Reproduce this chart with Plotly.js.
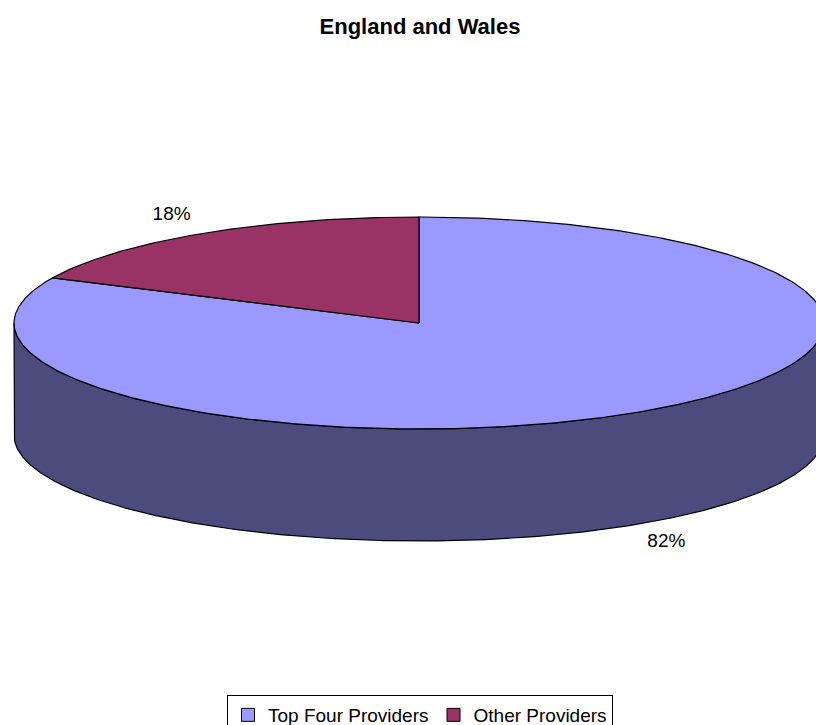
<!DOCTYPE html>
<html><head><meta charset="utf-8">
<script src="https://cdn.plot.ly/plotly-3.0.1.min.js"></script>
<style>html,body{margin:0;padding:0;background:#fff;}#chart{width:816px;height:725px;}</style>
</head><body><div id="chart"></div>
<script>
// ---- data ----
const chartTitle = 'England and Wales';
const categories = ['Top Four Providers', 'Other Providers'];
const values = [82, 18];
const labels = ['82%', '18%'];

// ---- styles ----
const topColors = ['#9999FF', '#993366'];
const sideColors = ['#4B4B7D', '#4C1933'];
const FONT = 'Arial, "Liberation Sans", sans-serif';

// ---- geometry of the tilted pie (in pixel-like axis units) ----
const W = 816, H = 725;
const cx = 419, cy = 323, rx = 405, ry = 106, depth = 112;

const total = values.reduce((a, b) => a + b, 0);
function pt(theta, dz) { // theta: degrees clockwise from 12 o'clock
  const r = theta * Math.PI / 180;
  return [cx + rx * Math.sin(r), cy - ry * Math.cos(r) + (dz || 0)];
}
function arc(a, b, dz) {
  const n = Math.max(2, Math.ceil(Math.abs(b - a) / 0.5));
  const xs = [], ys = [];
  for (let i = 0; i <= n; i++) {
    const p = pt(a + (b - a) * i / n, dz);
    xs.push(p[0]); ys.push(p[1]);
  }
  return [xs, ys];
}

// slice angles
const slices = [];
let acc = 0;
values.forEach((v, i) => {
  const a = acc / total * 360;
  acc += v;
  const b = acc / total * 360;
  slices.push({a, b, i});
});

const traces = [];

// side walls (front half only: 90..270 degrees)
slices.forEach(s => {
  const a = Math.max(s.a, 90), b = Math.min(s.b, 270);
  if (b <= a) return;
  const top = arc(a, b, 0);
  const bot = arc(b, a, depth);
  traces.push({
    type: 'scatter', mode: 'lines', fill: 'toself',
    x: top[0].concat(bot[0]).concat([top[0][0]]),
    y: top[1].concat(bot[1]).concat([top[1][0]]),
    fillcolor: sideColors[s.i], line: {color: '#000', width: 1.2},
    hoverinfo: 'skip', showlegend: false
  });
});

// top faces
slices.forEach(s => {
  const ar = arc(s.a, s.b, 0);
  traces.push({
    type: 'scatter', mode: 'lines', fill: 'toself',
    x: [cx].concat(ar[0]).concat([cx]),
    y: [cy].concat(ar[1]).concat([cy]),
    fillcolor: topColors[s.i], line: {color: '#000', width: 1.2},
    hoverinfo: 'skip', showlegend: false
  });
});

// percentage labels
const lx = [], ly = [];
slices.forEach(s => {
  const m = (s.a + s.b) / 2;
  const r = m * Math.PI / 180;
  const down = Math.cos(r) < 0 ? depth : 0;
  lx.push(cx + 1.14 * rx * Math.sin(r));
  ly.push(cy - 1.2 * ry * Math.cos(r) + down);
});
traces.push({
  type: 'scatter', mode: 'text', x: lx, y: ly, text: labels,
  textposition: 'middle center',
  textfont: {family: FONT, size: 19, color: '#000'},
  hoverinfo: 'skip', showlegend: false, cliponaxis: false
});

// legend entries
categories.forEach((c, i) => {
  traces.push({
    type: 'scatter', mode: 'markers', x: [null], y: [null], name: c,
    marker: {symbol: 'square', size: 13, color: topColors[i], line: {color: '#000', width: 1}},
    showlegend: true
  });
});

const layout = {
  width: W, height: H,
  margin: {l: 0, r: 0, t: 0, b: 0, pad: 0, autoexpand: false},
  paper_bgcolor: '#fff', plot_bgcolor: '#fff',
  title: {
    text: chartTitle, x: 420 / W, xanchor: 'center', xref: 'paper',
    y: 1 - 26 / H, yanchor: 'middle', yref: 'container',
    font: {family: FONT, size: 22, color: '#000', weight: 'bold'}
  },
  xaxis: {range: [0, W], visible: false, fixedrange: true},
  yaxis: {range: [H, 0], visible: false, fixedrange: true},
  showlegend: true,
  legend: {
    orientation: 'h', x: 420 / W, xanchor: 'center', xref: 'paper',
    y: 1 - 695 / H, yanchor: 'top', yref: 'paper',
    bordercolor: '#000', borderwidth: 1, bgcolor: '#fff',
    font: {family: FONT, size: 19, color: '#000'},
    itemwidth: 30, traceorder: 'normal'
  },
  hovermode: false
};

Plotly.newPlot('chart', traces, layout, {displayModeBar: false, staticPlot: true});
</script>
</body></html>
